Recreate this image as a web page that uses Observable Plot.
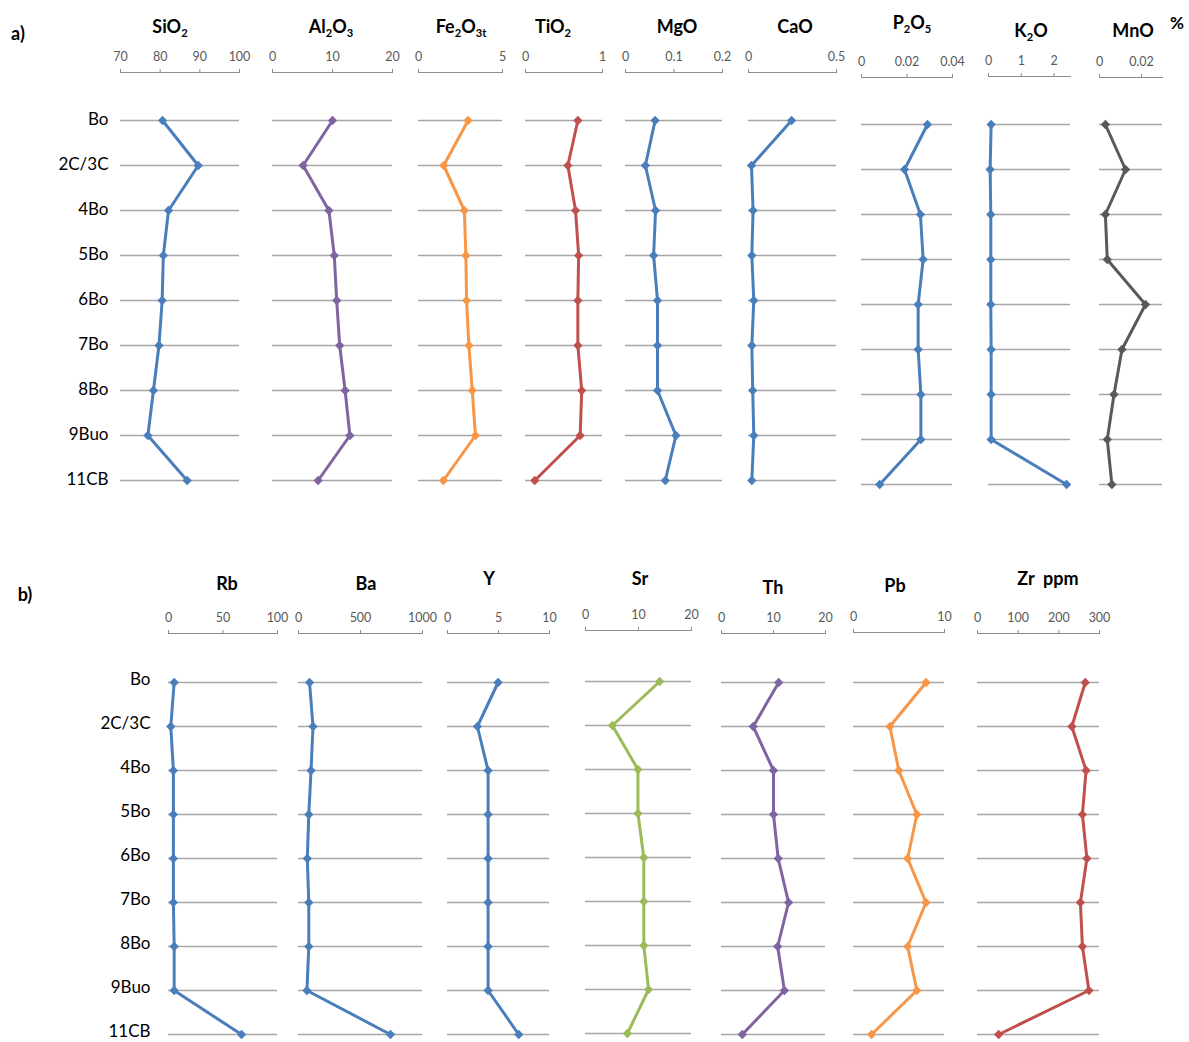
<!DOCTYPE html>
<html><head><meta charset="utf-8">
<script src="https://cdn.jsdelivr.net/npm/d3@7"></script>
<script src="https://cdn.jsdelivr.net/npm/@observablehq/plot@0.6"></script>
<style>
body{margin:0;background:#fff;}
#root{position:relative;width:1189px;height:1042px;overflow:hidden;font-family:Lato,"Open Sans",sans-serif;background:#fff;}
.lbl{position:absolute;transform:translate(-50%,-50%);white-space:nowrap;font-weight:bold;color:#000;line-height:1;font-size:18px;}
.lbl sub{font-size:0.62em;vertical-align:-0.35em;line-height:0;}
#root svg{position:absolute;}
</style></head><body><div id="root"></div>
<script>
// ---- data ----
const samples = ["Bo","2C/3C","4Bo","5Bo","6Bo","7Bo","8Bo","9Buo","11CB"];
// panel a) major oxides, %
const SiO2   = [80.6, 89.6, 82.1, 80.8, 80.5, 79.7, 78.3, 76.9, 86.8];
const Al2O3  = [10.0, 5.1, 9.4, 10.3, 10.7, 11.2, 12.1, 12.9, 7.6];
const Fe2O3t = [2.95, 1.5, 2.73, 2.82, 2.86, 3.0, 3.2, 3.39, 1.48];
const TiO2   = [0.68, 0.55, 0.65, 0.69, 0.68, 0.68, 0.73, 0.71, 0.12];
const MgO    = [0.061, 0.041, 0.062, 0.058, 0.066, 0.066, 0.066, 0.104, 0.082];
const CaO    = [0.245, 0.017, 0.026, 0.019, 0.030, 0.019, 0.024, 0.030, 0.019];
const P2O5   = [0.029, 0.0189, 0.0259, 0.0271, 0.0249, 0.0249, 0.0261, 0.0261, 0.008];
const K2O    = [0.08, 0.05, 0.07, 0.07, 0.07, 0.08, 0.08, 0.08, 2.38];
const MnO    = [0.0028, 0.0124, 0.0028, 0.0037, 0.0219, 0.0107, 0.0069, 0.0037, 0.0059];
// panel b) trace elements, ppm
const Rb = [5.2, 2.1, 4.5, 4.5, 4.5, 4.5, 5.2, 5.2, 67];
const Ba = [89, 117, 101, 83, 71, 83, 83, 68, 742];
const Yt = [4.96, 2.93, 3.98, 3.98, 3.98, 3.98, 3.98, 3.98, 6.99];
const Sr = [14.0, 5.07, 9.9, 9.9, 11.0, 11.0, 11.0, 11.9, 7.9];
const Th = [11.0, 6.1, 10.0, 10.0, 10.9, 12.9, 10.8, 12.1, 4.0];
const Pb = [7.97, 4.0, 4.98, 6.96, 5.95, 7.97, 5.95, 6.96, 1.98];
const Zr = [265, 232, 267, 258, 269, 253, 258, 274, 52];

// axis domains and tick labels
const domains = {SiO2:[70,100], Al2O3:[0,20], Fe2O3t:[0,5], TiO2:[0,1], MgO:[0,0.2], CaO:[0,0.5], P2O5:[0,0.04], K2O:[0,2.5], MnO:[0,0.03],
  Rb:[0,100], Ba:[0,1000], Y:[0,10], Sr:[0,20], Th:[0,20], Pb:[0,10], Zr:[0,300]};
const tickVals = {SiO2:[70,80,90,100], Al2O3:[0,10,20], Fe2O3t:[0,5], TiO2:[0,1], MgO:[0,0.1,0.2], CaO:[0,0.5], P2O5:[0,0.02,0.04], K2O:[0,1,2], MnO:[0,0.02],
  Rb:[0,50,100], Ba:[0,500,1000], Y:[0,5,10], Sr:[0,10,20], Th:[0,10,20], Pb:[0,10], Zr:[0,100,200,300]};

const C = {blue:"#4a7ebb", purple:"#8064a2", orange:"#f79646", red:"#c0504d", green:"#9bbb59", gray:"#595959"};

const root = document.getElementById("root");

function label(html, x, y, size) {
  const d = document.createElement("div");
  d.className = "lbl";
  d.innerHTML = html;
  d.style.left = x + "px";
  d.style.top = y + "px";
  if (size) d.style.fontSize = size + "px";
  root.appendChild(d);
}

function column(c) {
  const first = c.labelPad != null;
  const mL = first ? 90 : 8, mR = 10, mT = 34, mB = 14;
  const top = c.axisY - mT;
  const height = c.rows[1] + mB - top;
  const data = samples.map((s, i) => ({s, v: c.values[i]}));
  const marks = [
    Plot.ruleY(samples, {y: d => d, stroke: "#a6a6a6", strokeWidth: 1.4}),
    Plot.frame({anchor: "top", stroke: "#8c8c8c", strokeWidth: 1}),
    Plot.axisX({anchor: "top", ticks: c.ticks, tickSize: 4, tickPadding: 8, tickFormat: d => String(d),
      fontSize: 12.5, fill: "#595959", stroke: "#8c8c8c", label: null}),
    Plot.line(data, {x: "v", y: "s", stroke: c.color, strokeWidth: 3, strokeLinejoin: "round"}),
    Plot.dot(data, {x: "v", y: "s", symbol: "diamond2", r: 4.2, fill: c.color})
  ];
  if (first) marks.push(Plot.axisY({anchor: "left", tickSize: 0, tickPadding: c.labelPad, dy: c.labelDy || 0, fontSize: 17, fill: "#000", label: null}));
  const yScale = {type: "point", domain: samples, padding: 0, range: [c.rows[0] - top, c.rows[1] - top], label: null};
  if (!first) yScale.axis = null;
  const svg = Plot.plot({
    width: mL + (c.right - c.left) + mR,
    height,
    marginLeft: mL, marginRight: mR, marginTop: mT, marginBottom: mB,
    x: {domain: c.domain, label: null},
    y: yScale,
    style: {background: "transparent", overflow: "visible", fontFamily: "Lato, 'Open Sans', sans-serif"},
    marks
  });
  svg.style.left = (c.left - mL) + "px";
  svg.style.top = top + "px";
  svg.style.maxWidth = "none";
  root.appendChild(svg);
}

// panel a
const rowsA1 = [118, 482], rowsA2 = [122.5, 486];
column({left:120, right:239, axisY:72, rows:rowsA1, domain:domains.SiO2, ticks:tickVals.SiO2, values:SiO2, color:C.blue, labelPad:12, labelDy:-1});
column({left:272, right:392, axisY:72, rows:rowsA1, domain:domains.Al2O3, ticks:tickVals.Al2O3, values:Al2O3, color:C.purple});
column({left:418, right:502, axisY:72, rows:rowsA1, domain:domains.Fe2O3t, ticks:tickVals.Fe2O3t, values:Fe2O3t, color:C.orange});
column({left:525, right:602, axisY:72, rows:rowsA1, domain:domains.TiO2, ticks:tickVals.TiO2, values:TiO2, color:C.red});
column({left:625, right:722, axisY:72, rows:rowsA1, domain:domains.MgO, ticks:tickVals.MgO, values:MgO, color:C.blue});
column({left:748, right:836, axisY:72, rows:rowsA1, domain:domains.CaO, ticks:tickVals.CaO, values:CaO, color:C.blue});
column({left:861, right:952, axisY:77, rows:rowsA2, domain:domains.P2O5, ticks:tickVals.P2O5, values:P2O5, color:C.blue});
column({left:988, right:1070, axisY:76, rows:rowsA2, domain:domains.K2O, ticks:tickVals.K2O, values:K2O, color:C.blue});
column({left:1099, right:1162, axisY:77, rows:rowsA2, domain:domains.MnO, ticks:tickVals.MnO, values:MnO, color:C.gray});

// panel b
const rowsB = [678.5, 1037.5], rowsBs = [677, 1036];
column({left:168, right:277, axisY:633, rows:rowsB, domain:domains.Rb, ticks:tickVals.Rb, values:Rb, color:C.blue, labelPad:18, labelDy:-3});
column({left:298, right:422, axisY:633, rows:rowsB, domain:domains.Ba, ticks:tickVals.Ba, values:Ba, color:C.blue});
column({left:447, right:549, axisY:633, rows:rowsB, domain:domains.Y, ticks:tickVals.Y, values:Yt, color:C.blue});
column({left:585, right:691, axisY:630, rows:rowsBs, domain:domains.Sr, ticks:tickVals.Sr, values:Sr, color:C.green});
column({left:721, right:825, axisY:633, rows:rowsB, domain:domains.Th, ticks:tickVals.Th, values:Th, color:C.purple});
column({left:853, right:944, axisY:632, rows:rowsB, domain:domains.Pb, ticks:tickVals.Pb, values:Pb, color:C.orange});
column({left:977, right:1099, axisY:633, rows:rowsB, domain:domains.Zr, ticks:tickVals.Zr, values:Zr, color:C.red});

// titles
label("a)", 18, 33);
label("SiO<sub>2</sub>", 170, 26);
label("Al<sub>2</sub>O<sub>3</sub>", 331, 26);
label("Fe<sub>2</sub>O<sub>3t</sub>", 461, 26);
label("TiO<sub>2</sub>", 553, 26);
label("MgO", 677, 26);
label("CaO", 795, 26);
label("P<sub>2</sub>O<sub>5</sub>", 912, 22);
label("K<sub>2</sub>O", 1031, 30);
label("MnO", 1133, 30);
label("%", 1177, 22, 17);
label("b)", 25, 594);
label("Rb", 227, 583);
label("Ba", 366, 583);
label("Y", 489, 578);
label("Sr", 640, 578);
label("Th", 773, 587);
label("Pb", 895, 585);
label("Zr&nbsp;&nbsp;ppm", 1048, 578);
</script></body></html>
